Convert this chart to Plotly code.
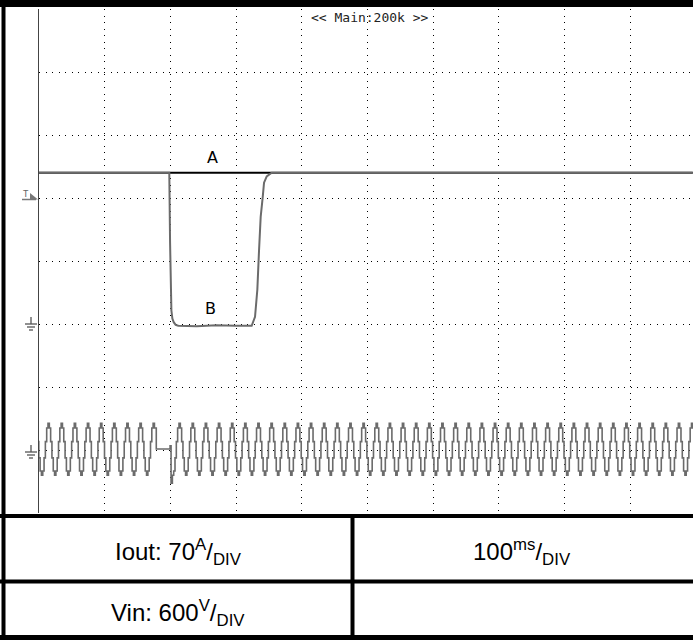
import plotly.graph_objects as go

# ---- data ----
# time axis in ms, 100 ms per division
# Iout trace B (A), ground on the 3rd division from the bottom
b_t = [0, 198.3, 199.5, 200.5, 201.5, 203, 205, 208, 212, 240, 270, 300, 323.7,
       328.8, 332.3, 334.9, 337.4, 340.5, 342.5, 346.6, 354.2, 995]
b_i = [168, 168, 90, 40, 15, 6, 2, -1, -2, -2.5, -1.5, -2, -2,
       8, 38, 82, 119, 141, 157, 164, 168, 168]
# reference trace A (A)
a_t = [0, 995]
a_i = [168, 168]

# Vin: one mains cycle sampled every 2 ms, starting at the positive peak (V)
vin_cycle = [255, 210, 80, -75, -200, -240, -200, -75, 80, 210]
vin_step = 2.0
# runs of whole cycles: (time of first peak in ms, number of cycles)
vin_runs = [(-6.3, 9), (213.1, 40)]
# the input dropout between the two runs
drop_t = [173.7, 175.7, 178.5, 197.5, 199.5, 201, 203, 205, 207, 209, 211]
drop_v = [255, 210, 10, 10, 40, -315, -240, -200, -75, 80, 210]

vin_t, vin_v = [], []
for k, (t0, n) in enumerate(vin_runs):
    for c in range(n):
        for j, v in enumerate(vin_cycle):
            vin_t.append(t0 + c * vin_step * len(vin_cycle) + j * vin_step)
            vin_v.append(v)
    if k == 0:
        vin_t += drop_t
        vin_v += drop_v

W, H = 693, 640


def px(x):
    return x / W


def py(y):
    return 1 - y / H


TRACE = "#6b6b6b"

fig = go.Figure()
fig.add_trace(go.Scatter(x=vin_t, y=vin_v, yaxis="y2", mode="lines",
                         line=dict(color=TRACE, width=1.6, shape="hv"), hoverinfo="skip"))
fig.add_trace(go.Scatter(x=a_t, y=a_i, mode="lines",
                         line=dict(color="black", width=2), hoverinfo="skip"))
fig.add_trace(go.Scatter(x=b_t, y=b_i, mode="lines",
                         line=dict(color=TRACE, width=2), hoverinfo="skip"))

grid = dict(showgrid=True, gridcolor="black", gridwidth=1, griddash="1px,5.5px",
            zeroline=False, showticklabels=False, ticks="")

fig.update_layout(
    width=W, height=H,
    margin=dict(l=0, r=0, t=0, b=0),
    paper_bgcolor="white", plot_bgcolor="white",
    showlegend=False,
    xaxis=dict(domain=[px(39), 1], range=[0, 995.4], tick0=0, dtick=100, **grid),
    yaxis=dict(domain=[py(513), py(9)], range=[-210, 350], tick0=0, dtick=70,
               showline=True, linecolor="#444", linewidth=1, **grid),
    yaxis2=dict(overlaying="y", range=[-600, 4200], visible=False),
)

# frame and table bars, drawn as filled boxes (x0, y0, x1, y1) in pixels
bars = [
    (0, 0, W, 7), (1.5, 0, 5.5, H), (0, 635, W, 640),
    (0, 514, W, 518), (0, 579.5, W, 583.5), (350.5, 516, 354.5, H),
]
for x0, y0, x1, y1 in bars:
    fig.add_shape(type="rect", xref="paper", yref="paper",
                  x0=px(x0), y0=py(y1), x1=px(x1), y1=py(y0),
                  fillcolor="black", line=dict(width=0), layer="above")

# ground markers on the left
for gy in [324, 452]:
    segs = [(31, gy - 7, 31, gy), (25, gy, 37, gy), (27, gy + 3, 35, gy + 3), (29, gy + 6, 33, gy + 6)]
    for x0, y0, x1, y1 in segs:
        fig.add_shape(type="line", xref="paper", yref="paper",
                      x0=px(x0), y0=py(y0), x1=px(x1), y1=py(y1),
                      line=dict(color="#555", width=1.3))

# trigger marker
fig.add_shape(type="line", xref="paper", yref="paper", x0=px(22), y0=py(199.5),
              x1=px(36), y1=py(199.5), line=dict(color="#777", width=1.5))
fig.add_shape(type="path", xref="paper", yref="paper",
              path=f"M {px(30)},{py(193)} L {px(38)},{py(199.5)} L {px(30)},{py(199.5)} Z",
              fillcolor="#777", line=dict(color="#777", width=0))


def label(x, y, text, font):
    fig.add_annotation(x=px(x), y=py(y), xref="paper", yref="paper", text=text,
                       xanchor="center", yanchor="middle", showarrow=False, font=font)


label(26, 194, "T", dict(family="DejaVu Sans Mono", size=9, color="#666"))

# screen texts
label(370, 17, "<< Main:200k >>", dict(family="DejaVu Sans Mono", size=13, color="#222"))
label(213, 157, "A", dict(family="DejaVu Sans", size=16, color="black"))
label(210, 308, "B", dict(family="DejaVu Sans", size=16, color="black"))

# table texts
tfont = dict(family="Liberation Sans", size=24, color="black")
label(178, 552, "Iout: 70<sup>A</sup>/<sub>DIV</sub>", tfont)
label(522, 552, "100<sup>ms</sup>/<sub>DIV</sub>", tfont)
label(178, 613, "Vin: 600<sup>V</sup>/<sub>DIV</sub>", tfont)

fig.write_html("out.html", config={"displayModeBar": False},
               post_script="document.body.style.margin='0';document.body.style.overflow='hidden';")
